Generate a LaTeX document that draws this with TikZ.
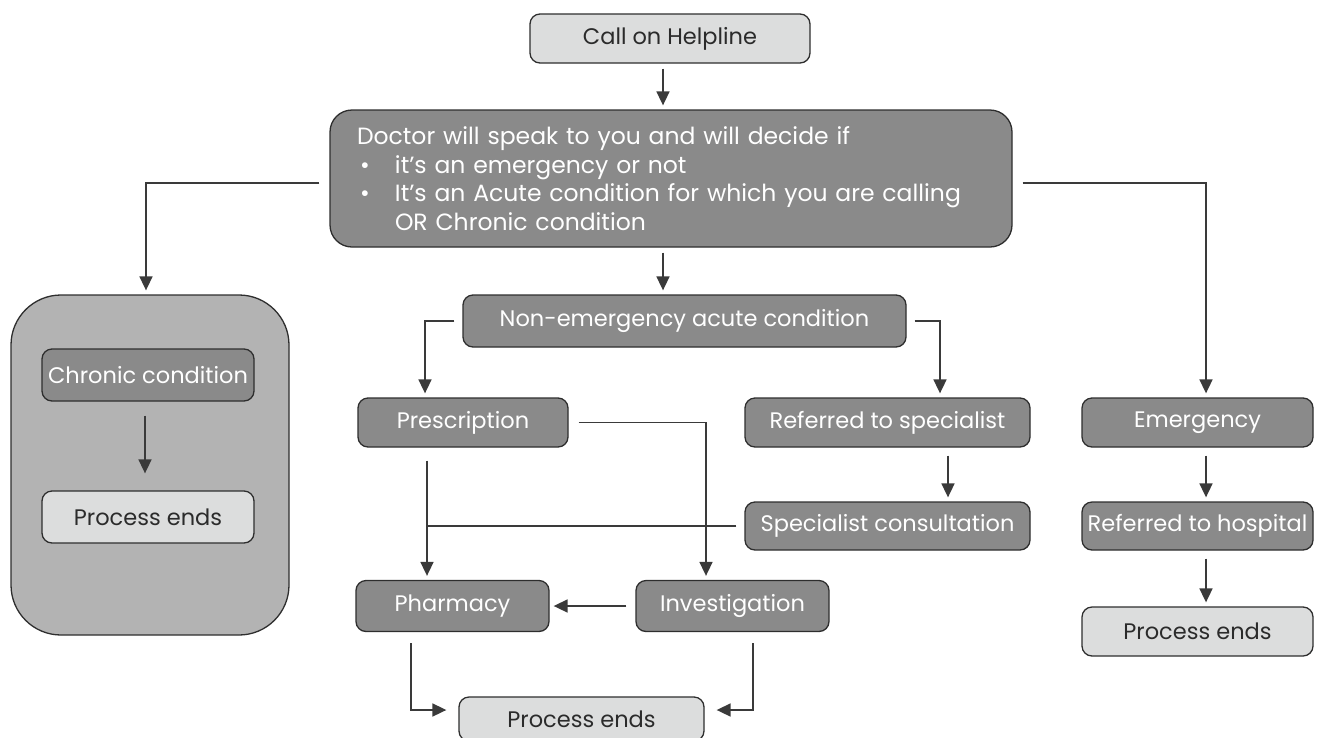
\documentclass[tikz,border=0pt]{standalone}
\usepackage{fontspec}
\setmainfont{Poppins}
\usetikzlibrary{arrows.meta}
\definecolor{dark}{HTML}{8A8A8A}
\definecolor{light}{HTML}{DCDDDD}
\definecolor{cont}{HTML}{B3B3B3}
\definecolor{edge}{HTML}{2E2E2E}
\definecolor{ln}{HTML}{3A3A3A}
\definecolor{txt}{HTML}{2B2B2B}
\tikzset{
  box/.style={draw=edge, line width=1.3pt, rounded corners=10pt, inner sep=0pt, font=\fontsize{22.5}{28.5}\selectfont},
  darkbox/.style={box, fill=dark, text=white},
  lightbox/.style={box, fill=light, text=txt},
  conn/.style={draw=ln, line width=1.7pt},
  arr/.style={conn, -{Triangle[length=14pt,width=13pt]}},
}
\begin{document}
\begin{tikzpicture}[x=1pt,y=-1pt]
\useasboundingbox (0,0) rectangle (1333,737);
% container
\node[box, fill=cont, rounded corners=50pt, minimum width=278pt, minimum height=340pt] (cbox) at (150,465) {};
% nodes
\node[lightbox, minimum width=280pt, minimum height=49pt] (call) at (670,38.5) {Call on Helpline};
\node[darkbox, rounded corners=22pt, minimum width=682pt, minimum height=137pt, text width=628pt, align=left, font=\fontsize{23.5}{28.5}\selectfont] (doc) at (671,178.5)
 {Doctor will speak to you and will decide if\\
  \makebox[38pt][l]{\hspace{3pt}•}it’s an emergency or not\\
  \makebox[38pt][l]{\hspace{3pt}•}It’s an Acute condition for which you are calling\\
  \hspace*{38pt}OR Chronic condition};
\node[darkbox, minimum width=443pt, minimum height=52pt] (neac) at (684.5,321) {Non-emergency acute condition};
\node[darkbox, minimum width=210pt, minimum height=49pt] (presc) at (463,422.5) {Prescription};
\node[darkbox, minimum width=285pt, minimum height=49pt] (refs) at (887.5,422.5) {Referred to specialist};
\node[darkbox, minimum width=285pt, minimum height=48pt] (spec) at (887.5,526) {Specialist consultation};
\node[darkbox, minimum width=193pt, minimum height=51pt] (pharm) at (452.5,606) {Pharmacy};
\node[darkbox, minimum width=193pt, minimum height=51pt] (inv) at (732.5,606) {Investigation};
\node[lightbox, minimum width=245pt, minimum height=44pt] (pe2) at (581.5,719) {Process ends};
\node[darkbox, minimum width=212pt, minimum height=52pt] (chron) at (148,375) {Chronic condition};
\node[lightbox, minimum width=212pt, minimum height=52pt] (pe1) at (148,517) {Process ends};
\node[darkbox, minimum width=231pt, minimum height=49pt] (emer) at (1197.5,422.5) {Emergency};
\node[darkbox, minimum width=231pt, minimum height=48pt] (hosp) at (1197.5,526) {Referred to hospital};
\node[lightbox, minimum width=231pt, minimum height=49pt] (pe3) at (1197.5,631.5) {Process ends};
% helper coordinates
\coordinate (xm) at (663,0);
\coordinate (cl) at (146,183);
\coordinate (cr) at (1206,183);
\coordinate (nl) at (425,321);
\coordinate (nr) at (940,321);
\coordinate (pr) at (706,422.5);
\coordinate (pl) at (427,0);
\coordinate (jn) at (427,526);
\coordinate (xs) at (948,0);
\coordinate (xc) at (145,0);
\coordinate (xe) at (1206,0);
\coordinate (bl) at (411,710);
\coordinate (br) at (753,710);
% connectors
\draw[arr, shorten <=5pt, shorten >=4pt] (call.south -| xm) -- (doc.north -| xm);
\draw[arr, shorten <=10pt, shorten >=4pt] (doc.west |- cl) -- (cl) -- (cbox.north -| cl);
\draw[arr, shorten <=10pt, shorten >=4pt] (doc.east |- cr) -- (cr) -- (emer.north -| cr);
\draw[arr, shorten <=5pt, shorten >=4pt] (doc.south -| xm) -- (neac.north -| xm);
\draw[arr, shorten <=8pt, shorten >=4pt] (neac.west) -- (nl) -- (presc.north -| nl);
\draw[arr, shorten <=8pt, shorten >=4pt] (neac.east) -- (nr) -- (refs.north -| nr);
\draw[arr, shorten <=10pt, shorten >=4pt] (presc.east) -- (pr) -- (inv.north -| pr);
\draw[arr, shorten <=13pt, shorten >=4pt] (presc.south -| pl) -- (pharm.north -| pl);
\draw[conn, shorten <=8pt] (spec.west) -- (jn);
\draw[arr, shorten <=8pt, shorten >=4pt] (refs.south -| xs) -- (spec.north -| xs);
\draw[arr, shorten <=9pt, shorten >=4pt] (inv.west) -- (pharm.east);
\draw[arr, shorten <=11pt, shorten >=12pt] (pharm.south -| bl) -- (bl) -- (pe2.west |- bl);
\draw[arr, shorten <=11pt, shorten >=12pt] (inv.south -| br) -- (br) -- (pe2.east |- br);
\draw[arr, shorten <=14pt, shorten >=17pt] (chron.south -| xc) -- (pe1.north -| xc);
\draw[arr, shorten <=8pt, shorten >=4pt] (emer.south -| xe) -- (hosp.north -| xe);
\draw[arr, shorten <=8pt, shorten >=4pt] (hosp.south -| xe) -- (pe3.north -| xe);
\end{tikzpicture}
\end{document}
